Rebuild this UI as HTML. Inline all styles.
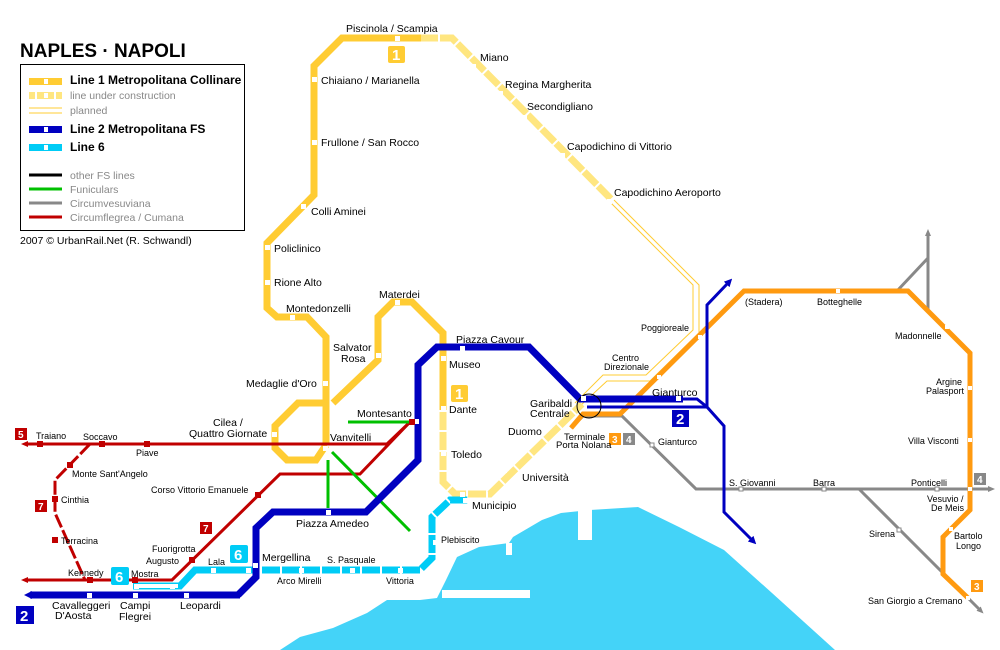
<!DOCTYPE html>
<html><head><meta charset="utf-8"><style>
body{margin:0;background:#fff}
svg{display:block;font-family:"Liberation Sans",sans-serif}
text{font-size:10.5px;fill:#000}
.g{fill:#888}
.b{font-weight:bold;font-size:12px}
</style></head><body>
<svg width="1000" height="650" viewBox="0 0 1000 650">
<defs>
<marker id="ab" markerWidth="8" markerHeight="8" refX="2" refY="4" orient="auto" markerUnits="userSpaceOnUse"><path d="M0,0 L8,4 L0,8z" fill="#0000c0"/></marker>
<marker id="ar" markerWidth="8" markerHeight="8" refX="2" refY="4" orient="auto" markerUnits="userSpaceOnUse"><path d="M0,1 L7,4 L0,7z" fill="#c00000"/></marker>
<marker id="ag" markerWidth="8" markerHeight="8" refX="2" refY="4" orient="auto" markerUnits="userSpaceOnUse"><path d="M0,1 L7,4 L0,7z" fill="#888"/></marker>
</defs>
<!-- water -->
<polygon fill="#44d3f8" points="280,650 300,637 333,628 367,613 387,600 420,600 437,598 446,580 457,557 479,547 509,543 513,537 542,520 561,513 590,510 638,507 679,527 724,550 772,593 835,650"/>
<rect x="442" y="590" width="88" height="8" fill="#fff"/>
<rect x="578" y="508" width="14" height="32" fill="#fff"/>
<rect x="506" y="543" width="6" height="12" fill="#fff"/>

<!-- title & legend -->
<text x="20" y="57" style="font-size:19px;font-weight:bold">NAPLES · NAPOLI</text>
<rect x="20.5" y="64.5" width="224" height="166" fill="none" stroke="#000"/>
<rect x="29" y="78" width="33" height="7" fill="#ffcc33"/><rect x="44" y="79" width="4" height="5" fill="#fff"/>
<text x="70" y="84" class="b">Line 1 Metropolitana Collinare</text>
<rect x="29" y="92" width="33" height="7" fill="#ffe680"/><rect x="35" y="92" width="2" height="7" fill="#fff"/><rect x="54" y="92" width="2" height="7" fill="#fff"/><rect x="44" y="93" width="4" height="5" fill="#fff"/>
<text x="70" y="99" class="g">line under construction</text>
<line x1="29" y1="108" x2="62" y2="108" stroke="#ffcc33"/><line x1="29" y1="113" x2="62" y2="113" stroke="#ffcc33"/>
<text x="70" y="114" class="g">planned</text>
<rect x="29" y="126" width="33" height="7" fill="#0000c0"/><rect x="44" y="127" width="4" height="5" fill="#fff"/>
<text x="70" y="133" class="b">Line 2 Metropolitana FS</text>
<rect x="29" y="144" width="33" height="7" fill="#00ccf6"/><rect x="44" y="145" width="4" height="5" fill="#fff"/>
<text x="70" y="151" class="b">Line 6</text>
<line x1="29" y1="175" x2="62" y2="175" stroke="#000" stroke-width="3"/><text x="70" y="179" class="g">other FS lines</text>
<line x1="29" y1="189" x2="62" y2="189" stroke="#00c000" stroke-width="3"/><text x="70" y="193" class="g">Funiculars</text>
<line x1="29" y1="203" x2="62" y2="203" stroke="#888" stroke-width="3"/><text x="70" y="207" class="g">Circumvesuviana</text>
<line x1="29" y1="217" x2="62" y2="217" stroke="#c00000" stroke-width="3"/><text x="70" y="221" class="g">Circumflegrea / Cumana</text>
<text x="20" y="244">2007 © UrbanRail.Net (R. Schwandl)</text>

<!-- planned line 1 -->
<g fill="none" stroke="#ffcc33" stroke-width="1">
<polyline points="608,200 693,285 693,330 646,375 603,375 575,403"/>
<polyline points="614,200 699,285 699,333 650,381 607,381 580,406"/>
</g>
<!-- construction line 1 -->
<g fill="none" stroke="#ffe680" stroke-width="7" stroke-dasharray="18,2">
<polyline points="420,38 452,38 612,200"/>
<polyline points="443,412 443,482 455,494 490,494 582,404"/>
</g>

<!-- gray -->
<g fill="none" stroke="#888" stroke-width="3">
<polyline points="571,428 583,416 622,416 696,489 990,489" marker-end="url(#ag)"/>
<polyline points="859,489 980,610" marker-end="url(#ag)"/>
<polyline points="928,310 928,234" marker-end="url(#ag)"/>
<line x1="897" y1="291" x2="928" y2="258"/>
</g>
<!-- orange -->
<polyline fill="none" stroke="#ff9a10" stroke-width="5" stroke-linejoin="miter" points="571,428 583,414 620,414 744,291 908,291 970,353 970,510 943,537 943,574 968,598"/>

<!-- line 1 solid -->
<g fill="none" stroke="#ffcc33" stroke-width="7" stroke-linejoin="miter">
<polyline points="421,38 342,38 314,66 314,195 267,243 267,308 277,317 307,317 326,337 326,445"/>
<polyline points="326,445 316,460 287,460 275,448 275,426 298,403 324,403"/>
<polyline points="333,403 378,360 378,317 393,302 412,302 443,333 443,410"/>
</g>

<!-- red -->
<g fill="none" stroke="#c00000" stroke-width="3">
<polyline points="410,422 387,444 26,444" marker-end="url(#ar)"/>
<polyline points="410,422 360,474 280,474 172,580 26,580" marker-end="url(#ar)"/>
<polyline points="90,444 57,478 55,480 55,513 85,580" stroke-dasharray="14,3"/>
</g>
<!-- green -->
<g stroke="#00c000" stroke-width="3">
<line x1="348" y1="422" x2="410" y2="422"/>
<line x1="328" y1="460" x2="328" y2="508"/>
<line x1="332" y1="452" x2="410" y2="531"/>
</g>

<!-- line 6 -->
<g fill="none" stroke="#00ccf6" stroke-width="7">
<polyline points="133,586 180,586 195,570 255,570"/>
<polyline points="262,570 420,570 432,558 432,517 450,500 468,500" stroke-dasharray="18,2"/>
</g>
<rect x="136" y="584" width="42" height="4" fill="#fff"/>

<!-- line 2 -->
<g fill="none" stroke="#0000c0">
<polyline stroke-width="7" points="240,595 30,595" marker-end="url(#ab)"/>
<polyline stroke-width="7" points="238,595 256,577 256,528 273,512 366,512 418,460 418,365 437,347 529,347 580,399 683,399"/>
<polyline stroke-width="3" points="683,399 697,399 707,407 724,426 724,512 752,540" marker-end="url(#ab)"/>
<polyline stroke-width="3" points="587,407 707,407 707,305 728,283" marker-end="url(#ab)"/>
</g>
<circle cx="589" cy="406" r="12" fill="none" stroke="#000" stroke-width="1"/>

<!-- stations -->
<g fill="#fff">
<rect x="395" y="36" width="5" height="5"/><rect x="312" y="77" width="5" height="5"/><rect x="312" y="140" width="5" height="5"/>
<rect x="301" y="204" width="5" height="5"/><rect x="265" y="245" width="5" height="5"/><rect x="265" y="280" width="5" height="5"/>
<rect x="290" y="315" width="5" height="5"/><rect x="323" y="381" width="5" height="5"/><rect x="323" y="446" width="5" height="5"/>
<rect x="272" y="432" width="5" height="5"/><rect x="376" y="353" width="5" height="5"/><rect x="395" y="300" width="5" height="5"/>
<rect x="441" y="356" width="5" height="5"/><rect x="441" y="406" width="5" height="5"/><rect x="441" y="451" width="5" height="5"/>
<rect x="460" y="492" width="5" height="5"/><rect x="502" y="468" width="5" height="5"/><rect x="530" y="438" width="5" height="5"/>
<rect x="471" y="64" width="5" height="5"/><rect x="498" y="91" width="5" height="5"/><rect x="522" y="115" width="5" height="5"/><rect x="560" y="153" width="5" height="5"/><rect x="607" y="199" width="5" height="5"/>
<rect x="460" y="346" width="5" height="5"/><rect x="581" y="396" width="5" height="5"/><rect x="676" y="396" width="5" height="5"/>
<rect x="414" y="419" width="5" height="5"/><rect x="326" y="510" width="5" height="5"/>
<rect x="87" y="593" width="5" height="5"/><rect x="133" y="593" width="5" height="5"/><rect x="184" y="593" width="5" height="5"/>
<rect x="253" y="563" width="5" height="5"/><rect x="211" y="568" width="5" height="5"/><rect x="246" y="568" width="5" height="5"/>
<rect x="299" y="568" width="5" height="5"/><rect x="350" y="568" width="5" height="5"/><rect x="398" y="568" width="5" height="5"/>
<rect x="433" y="540" width="5" height="5"/><rect x="463" y="498" width="5" height="5"/>
<rect x="134" y="584" width="5" height="5"/><rect x="170" y="584" width="5" height="5"/>
<rect x="657" y="375" width="4" height="4"/><rect x="698" y="335" width="4" height="4"/><rect x="836" y="289" width="4" height="4"/>
<rect x="945" y="325" width="4" height="4"/><rect x="968" y="386" width="4" height="4"/><rect x="968" y="438" width="4" height="4"/>
<rect x="968" y="487" width="4" height="4"/><rect x="949" y="527" width="4" height="4"/><rect x="966" y="596" width="4" height="4"/>
</g>
<g fill="#fff" stroke="#888"><rect x="650" y="443" width="4" height="4"/><rect x="739" y="487" width="4" height="4"/><rect x="822" y="487" width="4" height="4"/><rect x="935" y="487" width="4" height="4"/><rect x="897" y="528" width="4" height="4"/></g>
<g fill="#c00000"><rect x="37" y="441" width="6" height="6"/><rect x="99" y="441" width="6" height="6"/><rect x="144" y="441" width="6" height="6"/><rect x="67" y="462" width="6" height="6"/><rect x="52" y="496" width="6" height="6"/><rect x="52" y="537" width="6" height="6"/><rect x="87" y="577" width="6" height="6"/><rect x="132" y="577" width="6" height="6"/><rect x="255" y="492" width="6" height="6"/><rect x="189" y="557" width="6" height="6"/><rect x="409" y="419" width="6" height="6"/></g>

<!-- badges -->
<g>
<rect x="388" y="46" width="17" height="17" rx="2" fill="#ffcc33"/><text x="392" y="60" style="fill:#fff;font-size:15px;font-weight:bold">1</text>
<rect x="451" y="385" width="17" height="17" rx="2" fill="#ffcc33"/><text x="455" y="399" style="fill:#fff;font-size:15px;font-weight:bold">1</text>
<rect x="672" y="410" width="17" height="17" fill="#0000c0"/><text x="676" y="424" style="fill:#fff;font-size:15px;font-weight:bold">2</text>
<rect x="16" y="606" width="18" height="18" fill="#0000c0"/><text x="20" y="621" style="fill:#fff;font-size:15px;font-weight:bold">2</text>
<rect x="230" y="545" width="18" height="18" rx="2" fill="#00ccf6"/><text x="234" y="560" style="fill:#fff;font-size:15px;font-weight:bold">6</text>
<rect x="111" y="567" width="18" height="18" rx="2" fill="#00ccf6"/><text x="115" y="582" style="fill:#fff;font-size:15px;font-weight:bold">6</text>
<rect x="15" y="428" width="12" height="12" fill="#c00000"/><text x="18" y="438" style="fill:#fff;font-size:10px;font-weight:bold">5</text>
<rect x="35" y="500" width="12" height="12" fill="#c00000"/><text x="38" y="510" style="fill:#fff;font-size:10px;font-weight:bold">7</text>
<rect x="200" y="522" width="12" height="12" fill="#c00000"/><text x="203" y="532" style="fill:#fff;font-size:10px;font-weight:bold">7</text>
<rect x="609" y="433" width="12" height="12" fill="#ff9a10"/><text x="612" y="443" style="fill:#fff;font-size:10px;font-weight:bold">3</text>
<rect x="623" y="433" width="12" height="12" fill="#888"/><text x="626" y="443" style="fill:#fff;font-size:10px;font-weight:bold">4</text>
<rect x="974" y="473" width="12" height="12" fill="#888"/><text x="977" y="483" style="fill:#fff;font-size:10px;font-weight:bold">4</text>
<rect x="971" y="580" width="12" height="12" fill="#ff9a10"/><text x="974" y="590" style="fill:#fff;font-size:10px;font-weight:bold">3</text>
</g>

<!-- labels -->
<text x="346" y="32">Piscinola / Scampia</text>
<text x="480" y="61">Miano</text>
<text x="505" y="88">Regina Margherita</text>
<text x="527" y="110">Secondigliano</text>
<text x="567" y="150">Capodichino di Vittorio</text>
<text x="614" y="196">Capodichino Aeroporto</text>
<text x="321" y="84">Chiaiano / Marianella</text>
<text x="321" y="146">Frullone / San Rocco</text>
<text x="311" y="215">Colli Aminei</text>
<text x="274" y="252">Policlinico</text>
<text x="274" y="286">Rione Alto</text>
<text x="286" y="312">Montedonzelli</text>
<text x="379" y="298">Materdei</text>
<text x="333" y="351">Salvator</text><text x="341" y="362">Rosa</text>
<text x="246" y="387">Medaglie d'Oro</text>
<text x="213" y="426">Cilea /</text><text x="189" y="437">Quattro Giornate</text>
<text x="330" y="441">Vanvitelli</text>
<text x="357" y="417">Montesanto</text>
<text x="456" y="343">Piazza Cavour</text>
<text x="449" y="368">Museo</text>
<text x="449" y="413">Dante</text>
<text x="451" y="458">Toledo</text>
<text x="508" y="435">Duomo</text>
<text x="522" y="481">Università</text>
<text x="472" y="509">Municipio</text>
<text x="441" y="543" style="font-size:9px">Plebiscito</text>
<text x="530" y="407">Garibaldi</text><text x="530" y="417">Centrale</text>
<text x="564" y="440" style="font-size:9.5px">Terminale</text><text x="556" y="448" style="font-size:9.5px">Porta Nolana</text>
<text x="612" y="361" style="font-size:9px">Centro</text><text x="604" y="370" style="font-size:9px">Direzionale</text>
<text x="641" y="331" style="font-size:9px">Poggioreale</text>
<text x="652" y="396">Gianturco</text>
<text x="658" y="445" style="font-size:9px">Gianturco</text>
<text x="745" y="305" style="font-size:9px">(Stadera)</text>
<text x="817" y="305" style="font-size:9px">Botteghelle</text>
<text x="895" y="339" style="font-size:9px">Madonnelle</text>
<text x="936" y="385" style="font-size:9px">Argine</text><text x="926" y="394" style="font-size:9px">Palasport</text>
<text x="908" y="444" style="font-size:9px">Villa Visconti</text>
<text x="729" y="486" style="font-size:9px">S. Giovanni</text>
<text x="813" y="486" style="font-size:9px">Barra</text>
<text x="911" y="486" style="font-size:9px">Ponticelli</text>
<text x="927" y="502" style="font-size:9px">Vesuvio /</text><text x="931" y="511" style="font-size:9px">De Meis</text>
<text x="954" y="539" style="font-size:9px">Bartolo</text><text x="956" y="549" style="font-size:9px">Longo</text>
<text x="869" y="537" style="font-size:9px">Sirena</text>
<text x="868" y="604" style="font-size:9px">San Giorgio a Cremano</text>
<text x="36" y="439" style="font-size:9px">Traiano</text>
<text x="83" y="440" style="font-size:9px">Soccavo</text>
<text x="136" y="456" style="font-size:9px">Piave</text>
<text x="72" y="477" style="font-size:9px">Monte Sant'Angelo</text>
<text x="61" y="503" style="font-size:9px">Cinthia</text>
<text x="61" y="544" style="font-size:9px">Terracina</text>
<text x="68" y="576" style="font-size:9px">Kennedy</text>
<text x="151" y="493" style="font-size:9px">Corso Vittorio Emanuele</text>
<text x="152" y="552" style="font-size:9px">Fuorigrotta</text>
<text x="146" y="564" style="font-size:9px">Augusto</text>
<text x="131" y="577" style="font-size:9px">Mostra</text>
<text x="208" y="565" style="font-size:9px">Lala</text>
<text x="262" y="561">Mergellina</text>
<text x="277" y="584" style="font-size:9px">Arco Mirelli</text>
<text x="327" y="563" style="font-size:9px">S. Pasquale</text>
<text x="386" y="584" style="font-size:9px">Vittoria</text>
<text x="296" y="527">Piazza Amedeo</text>
<text x="52" y="609">Cavalleggeri</text><text x="55" y="619">D'Aosta</text>
<text x="120" y="609">Campi</text><text x="119" y="620">Flegrei</text>
<text x="180" y="609">Leopardi</text>
</svg>
</body></html>
